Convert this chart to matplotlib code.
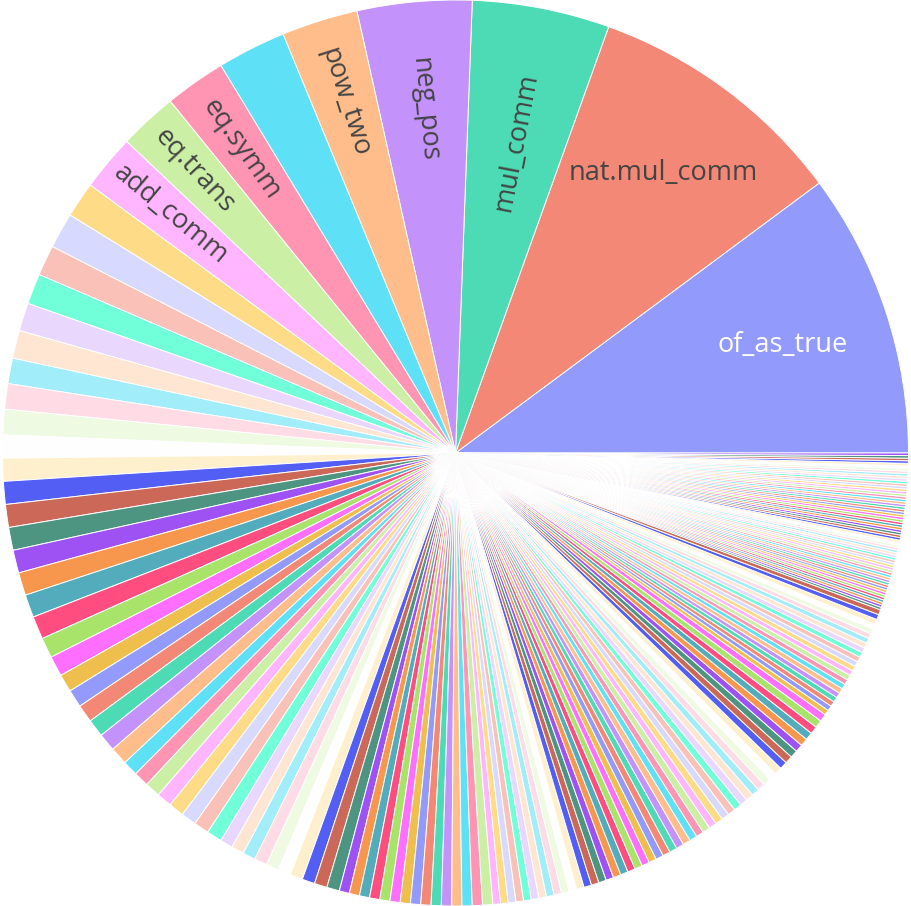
import colorsys
import matplotlib
matplotlib.use('Agg')
import matplotlib.pyplot as plt
import matplotlib.colors as mcolors
import numpy as np

# Usage counts per lemma, sorted descending
values = [
    112, 103, 54, 45, 30, 27, 24, 23, 22, 14,
    14, 12, 12, 11, 11, 10, 10, 10, 9, 9,
    9, 9, 9, 9, 9, 9, 9, 8, 8, 7,
    7, 7, 7, 7, 7, 6, 6, 6, 6, 6,
    6, 6, 6, 5, 5, 5, 5, 5, 5, 5,
    5, 5, 5, 4, 4, 4, 4, 4, 4, 4,
    4, 4, 4, 4, 4, 4, 4, 4, 3, 3,
    3, 3, 3, 3, 3, 3, 3, 3, 3, 3,
    3, 3, 3, 3, 3, 3, 3, 3, 3, 3,
    3, 3, 3, 3, 3, 3, 3, 3, 3, 3,
    3, 3, 3, 3, 3, 3, 3, 3, 3, 3,
    3, 3, 3, 3, 3, 3, 3, 3, 3, 2,
    2, 2, 2, 2, 2, 2, 2, 2, 2, 2,
    2, 2, 2, 2, 2, 2, 2, 2, 2, 2,
    2, 2, 1, 1, 1, 1, 1, 1, 1, 1,
    1, 1, 1, 1, 1, 1, 1, 1, 1, 1,
    1, 1, 1, 1, 1, 1, 1, 1, 1, 1,
    1, 1, 1, 1, 1, 1, 1, 1, 1, 1,
    1, 1, 1, 1, 1, 1, 1, 1, 1, 1,
    1, 1, 1, 1, 1, 1, 1, 1, 1, 1,
    1, 1, 1, 1,
]

# labels that are visible inside the biggest slices (slice 5 shows none)
shown_labels = ['of_as_true', 'nat.mul_comm', 'mul_comm', 'neg_pos', 'pow_two',
                '', 'eq.symm', 'eq.trans', 'add_comm']

# plotly colorway, extended with lighter and darker versions, at 0.7 opacity
base = ['#636efa', '#EF553B', '#00cc96', '#ab63fa', '#FFA15A',
        '#19d3f3', '#FF6692', '#B6E880', '#FF97FF', '#FECB52']


def shift(c, dl):
    r, g, b = mcolors.to_rgb(c)
    h, l, s = colorsys.rgb_to_hls(r, g, b)
    l = min(1.0, max(0.0, l + dl))
    return colorsys.hls_to_rgb(h, l, s)


ext = [mcolors.to_rgb(c) for c in base] + [shift(c, 0.2) for c in base] + [shift(c, -0.2) for c in base]
ext = [tuple(0.7 * np.array(c) + 0.3) for c in ext]
colors = [ext[i % len(ext)] for i in range(len(values))]

orient = ['h', 'h', 'r', 'r', 'r', None, 'r', 'r', 'r']
text_r = [0.76, 0.77, 0.70, 0.76, 0.81, 0, 0.82, 0.85, 0.82]
text_col = ['white'] + ['#444444'] * 8

fig = plt.figure(figsize=(9.11, 9.06), dpi=100)
ax = fig.add_axes([0, 0, 1, 1])
wedges, _ = ax.pie(values, colors=colors, startangle=0, counterclock=True,
                   wedgeprops=dict(edgecolor='white', linewidth=0.7))

for i, lab in enumerate(shown_labels):
    if not lab:
        continue
    w = wedges[i]
    mid = (w.theta1 + w.theta2) / 2
    x = text_r[i] * np.cos(np.radians(mid))
    y = text_r[i] * np.sin(np.radians(mid))
    if orient[i] == 'h':
        rot = 0
    else:
        rot = mid if mid <= 90 else mid - 180
    ax.text(x, y, lab, rotation=rot, rotation_mode='anchor', ha='center', va='center',
            fontsize=19.5, color=text_col[i], family=['Open Sans', 'DejaVu Sans'])

ax.set_aspect('auto')
half_w = 911 / 906
ax.set_xlim(-half_w, half_w)
ax.set_ylim(-1, 1)
ax.axis('off')
fig.savefig('out.png', dpi=100)
